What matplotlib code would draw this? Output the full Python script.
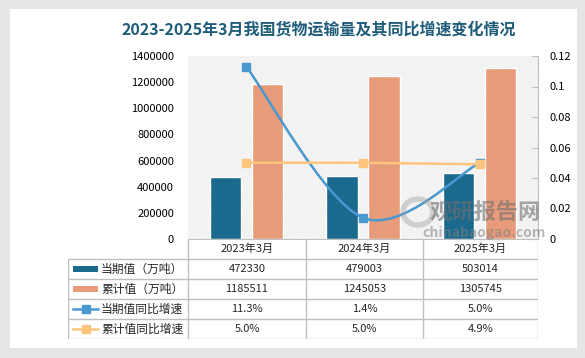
import numpy as np
import matplotlib
matplotlib.use("Agg")
import matplotlib.pyplot as plt
from matplotlib.patches import Rectangle, PathPatch, Ellipse
from matplotlib.path import Path

plt.rcParams['font.family'] = ['Noto Sans CJK SC', 'DejaVu Sans']
plt.rcParams['hatch.linewidth'] = 0.5

# ---------------- DATA ---------------- #
categories = ["2023年3月", "2024年3月", "2025年3月"]
current_vals = [472330, 479003, 503014]
cumulative_vals = [1185511, 1245053, 1305745]
current_yoy = [0.113, 0.014, 0.050]
cumulative_yoy = [0.050, 0.050, 0.049]
current_yoy_txt = ["11.3%", "1.4%", "5.0%"]
cumulative_yoy_txt = ["5.0%", "5.0%", "4.9%"]
row_labels = ["当期值（万吨）", "累计值（万吨）", "当期值同比增速", "累计值同比增速"]
title = "2023-2025年3月我国货物运输量及其同比增速变化情况"

C_CUR = "#1b6a8e"
C_CUM = "#e89b7a"
C_LCUR = "#4a98d0"
C_LCUM = "#ffc57d"
GRID = "#bfbfbf"

W, H = 585, 358


def px_axes(fig, left, top, right, bottom, **kw):
    return fig.add_axes([left / W, 1 - bottom / H, (right - left) / W, (bottom - top) / H], **kw)


def smooth_path(xs, ys):
    # Catmull-Rom style smoothing, like Excel's smoothed line
    pts = np.column_stack([xs, ys]).astype(float)
    ext = np.vstack([pts[0], pts, pts[-1]])
    verts = [pts[0]]
    codes = [Path.MOVETO]
    for i in range(len(pts) - 1):
        p0, p1, p2, p3 = ext[i], ext[i + 1], ext[i + 2], ext[i + 3]
        verts += [p1 + (p2 - p0) / 6, p2 - (p3 - p1) / 6, p2]
        codes += [Path.CURVE4] * 3
    return Path(verts, codes)


fig = plt.figure(figsize=(W / 100, H / 100), dpi=100)
fig.patch.set_facecolor("#e6e6e6")

# white card
card = px_axes(fig, 10, 9, 577, 348)
card.set_axis_off()
card.add_patch(Rectangle((0, 0), 1, 1, transform=card.transAxes, facecolor="white", edgecolor="none"))

fig.text(319 / W, 1 - 30 / H, title, ha="center", va="center", fontsize=11.5,
         fontweight="bold", color="#1f5c7a")

# ---------------- MAIN CHART ---------------- #
ax = px_axes(fig, 188, 56, 538, 239)
ax.patch.set_alpha(0)
x = np.arange(len(categories))
ax.add_patch(Rectangle((0, 0), 1, 1, transform=ax.transAxes, facecolor="white",
                       edgecolor="#e2e2e2", hatch="\\" * 14, linewidth=0, zorder=0))
bw = 0.27
ax.bar(x - 0.18, current_vals, bw, color=C_CUR, edgecolor="white", linewidth=1, zorder=2)
ax.bar(x + 0.18, cumulative_vals, bw, color=C_CUM, edgecolor="white", linewidth=1, zorder=2)
ax.set_xlim(-0.5, 2.5)
ax.set_ylim(0, 1400000)
ax.set_yticks(np.arange(0, 1400001, 200000))
ax.set_yticklabels([str(v) for v in range(0, 1400001, 200000)])
ax.tick_params(axis="y", length=0, labelsize=8, pad=10)
ax.set_xticks([])
for s in ["left", "top", "right"]:
    ax.spines[s].set_visible(False)
ax.spines["bottom"].set_color(GRID)

ax2 = ax.twinx()
ax2.set_ylim(0, 0.12)
ax2.set_yticks(np.arange(0, 0.121, 0.02))
ax2.set_yticklabels(["0", "0.02", "0.04", "0.06", "0.08", "0.1", "0.12"])
ax2.tick_params(axis="y", direction="in", length=4, color=GRID, labelsize=8, pad=8)
for s in ["left", "top", "bottom"]:
    ax2.spines[s].set_visible(False)
ax2.spines["right"].set_color(GRID)

ax2.add_patch(PathPatch(smooth_path(x, current_yoy), facecolor="none", edgecolor=C_LCUR,
                        linewidth=1.8, zorder=3))
ax2.plot(x, current_yoy, linestyle="none", marker="s", markersize=6, color=C_LCUR, zorder=4)
ax2.plot(x, cumulative_yoy, color=C_LCUM, linewidth=1.8, marker="s", markersize=6, zorder=4)

# watermark
wm = px_axes(fig, 0, 0, W, H)
wm.set_xlim(0, W)
wm.set_ylim(H, 0)
wm.set_axis_off()
wm.patch.set_alpha(0)
wm.add_patch(Ellipse((418, 212), 30, 26, facecolor="none", edgecolor="#9a9a9a",
                     linewidth=4, alpha=0.4))
wm.text(485, 213, "观研报告网", ha="center", va="center", fontsize=16,
        fontweight="bold", color="#707070", alpha=0.6)
wm.text(484, 233, "chinabaogao.com", ha="center", va="center", fontsize=10,
        fontweight="bold", color="#808080", alpha=0.55)

# ---------------- DATA TABLE ---------------- #
tb = px_axes(fig, 68, 239, 538, 339)
tb.set_xlim(68, 538)
tb.set_ylim(339, 239)
tb.set_axis_off()
col_edges = [188, 306, 423, 538]
row_edges = [239, 259, 279, 299, 319, 339]
lk = dict(color=GRID, linewidth=1, solid_capstyle="butt")
for xe in col_edges:
    tb.plot([xe, xe], [239, 339], **lk)
tb.plot([68, 68], [259, 339], **lk)
for ye in row_edges[1:]:
    tb.plot([68, 538], [ye, ye], **lk)

centers = [(col_edges[i] + col_edges[i + 1]) / 2 for i in range(3)]
rows = [categories,
        [str(v) for v in current_vals],
        [str(v) for v in cumulative_vals],
        current_yoy_txt,
        cumulative_yoy_txt]
for r, vals in enumerate(rows):
    yc = (row_edges[r] + row_edges[r + 1]) / 2
    for cx, v in zip(centers, vals):
        tb.text(cx, yc, v, ha="center", va="center", fontsize=8, color="#262626")

for r, lab in enumerate(row_labels):
    yc = (row_edges[r + 1] + row_edges[r + 2]) / 2
    if r < 2:
        tb.add_patch(Rectangle((73, yc - 3), 25, 6, facecolor=[C_CUR, C_CUM][r], edgecolor="none"))
    else:
        c = [C_LCUR, C_LCUM][r - 2]
        tb.plot([73, 98], [yc, yc], color=c, linewidth=1.8)
        tb.plot([85.5], [yc], marker="s", markersize=6, color=c)
    tb.text(101, yc, lab, ha="left", va="center", fontsize=8.5, color="#262626")

fig.savefig("out.png", dpi=100, facecolor=fig.get_facecolor())
